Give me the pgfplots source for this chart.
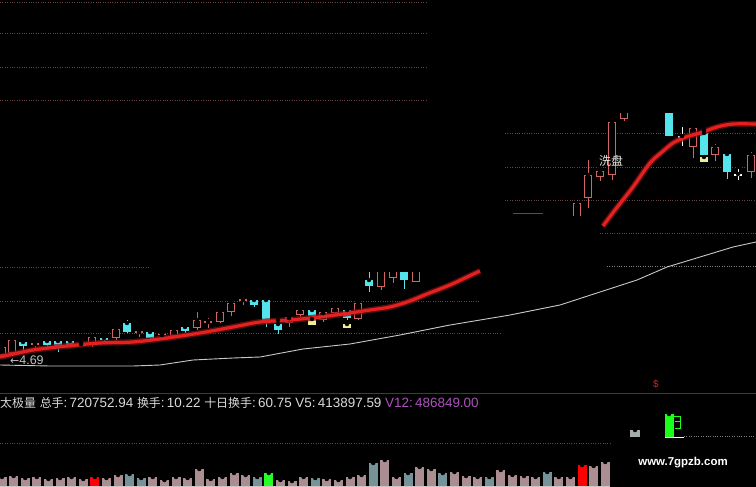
\documentclass[border=0pt]{standalone}
\usepackage{pgfplots}
\pgfplotsset{compat=1.18}
\usepackage{pgfplotstable}
\usepackage{fontspec}
\setmainfont{Liberation Sans}
\newfontfamily\cjk{Noto Sans CJK SC}
\newfontfamily\dejavu{DejaVu Sans}
\definecolor{candred}{RGB}{210,100,100}
\definecolor{candcyan}{RGB}{85,228,235}
\definecolor{mared}{RGB}{228,32,32}
\definecolor{gridc}{RGB}{105,66,66}
\definecolor{volpink}{RGB}{170,142,146}
\definecolor{volteal}{RGB}{118,148,152}
\definecolor{txtc}{RGB}{218,218,218}
\definecolor{v12c}{RGB}{172,82,188}
\definecolor{sepred}{RGB}{125,32,32}
\definecolor{yelc}{RGB}{238,238,150}
\definecolor{magray}{RGB}{200,200,200}
\definecolor{volgray}{RGB}{165,172,172}

% candles in pixel coordinates: body top/bottom, wick top/bottom
\pgfplotstableread{
x bt bb wt wb
2 347 355 345 357
12 340 353 337 355
35 343 345 339 350
81 343 344 342 345
92 337 345 336 347
116 329 338 327 340
139 331 333 327 337
162 334 335 333 336
174 330 336 329 338
197 320 328 310 330
208 321 323 316 328
220 312 322 310 323
231 303 312 300 316
243 299 301 295 305
289 317 323 316 327
300 310 315 307 317
323 312 320 311 322
335 308 313 305 315
358 303 319 302 320
381 268 287 268 290
393 268 278 268 283
416 268 282 268 282
577 203 220 198 220
588 175 198 158 208
600 171 177 169 181
612 122 175 118 180
624 108 119 108 121
693 128 147 126 158
715 147 155 142 161
751 155 172 150 178
}\redtab
\pgfplotstableread{
x bt bb wt wb
23 342 346 340 350
47 341 345 339 347
58 341 348 339 352
70 341 347 340 348
104 338 340 335 343
127 323 332 318 333
150 332 338 330 341
185 327 331 325 333
254 300 305 299 307
266 300 320 299 327
278 324 330 320 334
312 310 316 309 317
347 310 318 308 320
369 280 286 268 292
404 268 280 268 289
669 108 136 108 136
704 133 155 130 157
727 154 172 150 179
}\cyantab
\pgfplotstableread{
x bt bb wt wb
682 136 138 125 146
738 174 176 167 180
}\whitetab
\pgfplotstableread{
x bt bb
312 319 325
347 324 328
704 157 162
}\yeltab
% volume bars: x, top (pixel)
\pgfplotstableread{
x top
2 477
13.6 476
25.2 478
36.8 477
48.4 479
60 478
71.6 477
83.2 479
106.4 478
118 475
152.8 477
164.4 480
176 477
187.6 478
199.2 469
210.8 479
222.4 477
234 473
245.6 475
280.4 480
292 481
303.6 477
326.8 479
338.4 480
350 477
361.6 475
384.8 460
396.4 477
419.6 467
431.2 469
454.4 472
466 476
477.6 477
500.8 470
512.4 475
524 476
535.6 477
558.8 477
570.4 477
593.6 466
605.2 462
}\volpink
\pgfplotstableread{
x top
129.6 474
141.2 478
257.2 477
315.2 478
373.2 463
408 473
442.8 473
489.2 477
547.2 472
}\volteal
\pgfplotstableread{
x top
94.8 477
582 465
}\volred
\pgfplotstableread{
x top
268.8 473
}\volgreen

\pgfplotsset{
  body/.style n args={2}{only marks, mark=none, forget plot,
    error bars/.cd, y dir=plus, y explicit, error mark=none,
    error bar style={draw=#1, line width=#2}},
}

\begin{document}
\begin{tikzpicture}
\begin{axis}[
  scale only axis, width=756bp, height=487bp,
  xmin=0, xmax=756, ymin=0, ymax=487, y dir=reverse,
  axis lines=none, ticks=none,
  axis background/.style={fill=black},
]
\fill[black] (rel axis cs:0,0) rectangle (rel axis cs:1,1);

% lower grid
\addplot[gridc, dotted, forget plot] coordinates {(0,267) (150,267)};
\addplot[gridc, dotted, forget plot] coordinates {(0,301) (480,301)};
\addplot[gridc, dotted, forget plot] coordinates {(0,333) (500,333)};
\addplot[gridc, dotted, forget plot] coordinates {(505,133) (756,133)};
\addplot[gridc, dotted, forget plot] coordinates {(505,167) (756,167)};
\addplot[gridc, dotted, forget plot] coordinates {(505,200) (756,200)};
\addplot[gridc, dotted, forget plot] coordinates {(600,233) (756,233)};
\addplot[gray, dotted, forget plot] coordinates {(607,266) (756,266)};
\addplot[black!60!blue!40!gray, forget plot] coordinates {(513,213) (543,213)};

% gray moving average
\addplot[magray, line width=0.9bp, forget plot] coordinates {
(0,365) (50,366) (133,366) (160,365) (193,360) (233,358) (260,357)
(303,349) (350,344) (400,335) (450,325) (510,315) (560,305) (600,292)
(637,280) (667,267) (700,257) (733,247) (756,242)};

% wicks
\addplot[body={candred}{1bp}] table[x=x, y=wt, y error expr=\thisrow{wb}-\thisrow{wt}] {\redtab};
\addplot[body={candcyan}{1bp}] table[x=x, y=wt, y error expr=\thisrow{wb}-\thisrow{wt}] {\cyantab};
\addplot[body={white}{1bp}] table[x=x, y=wt, y error expr=\thisrow{wb}-\thisrow{wt}] {\whitetab};
% bodies
\addplot[body={candred}{8.6bp}] table[x=x, y=bt, y error expr=\thisrow{bb}-\thisrow{bt}] {\redtab};
\addplot[body={black}{6.4bp}] table[x=x, y expr=\thisrow{bt}+1.1, y error expr={max(\thisrow{bb}-\thisrow{bt}-2.2,0)}] {\redtab};
\addplot[body={candcyan}{8.6bp}] table[x=x, y=bt, y error expr=\thisrow{bb}-\thisrow{bt}] {\cyantab};
\addplot[body={white}{8.6bp}] table[x=x, y=bt, y error expr=\thisrow{bb}-\thisrow{bt}] {\whitetab};
\addplot[body={yelc}{8bp}] table[x=x, y=bt, y error expr=\thisrow{bb}-\thisrow{bt}] {\yeltab};

% masks (hidden parts of the screen)
\fill[black] (axis cs:362,0) rectangle (axis cs:430,271.5);
\fill[black] (axis cs:560,0) rectangle (axis cs:756,112.8);
\fill[black] (axis cs:565,215.5) rectangle (axis cs:598,262);

% upper-left grid
\addplot[gridc, dotted, forget plot] coordinates {(0,2) (427,2)};
\addplot[gridc, dotted, forget plot] coordinates {(0,33) (427,33)};
\addplot[gridc, dotted, forget plot] coordinates {(0,67) (427,67)};
\addplot[gridc, dotted, forget plot] coordinates {(0,100) (427,100)};

% red moving average
\addplot[mared!55!black, line width=6bp, opacity=0.7, smooth, forget plot] coordinates {
(0,357) (33,350) (67,346) (100,343) (133,342) (167,338) (200,333) (233,327)
(260,322) (290,320) (320,317) (350,313) (370,310) (390,307) (410,301)
(427,294) (450,285) (465,278) (480,271)};
\addplot[mared, line width=3.2bp, smooth, forget plot] coordinates {
(0,357) (33,350) (67,346) (100,343) (133,342) (167,338) (200,333) (233,327)
(260,322) (290,320) (320,317) (350,313) (370,310) (390,307) (410,301)
(427,294) (450,285) (465,278) (480,271)};
\addplot[mared!55!black, line width=6bp, opacity=0.7, smooth, forget plot] coordinates {
(603,226) (615,210) (633,187) (650,163) (662,152) (673,143) (686,137)
(700,133) (717,127) (733,124) (756,124)};
\addplot[mared, line width=3.2bp, smooth, forget plot] coordinates {
(603,226) (615,210) (633,187) (650,163) (662,152) (673,143) (686,137)
(700,133) (717,127) (733,124) (756,124)};

% texts in price panel
\node[anchor=base west, inner sep=0pt, text={rgb,255:red,195;green,195;blue,195},
  font=\fontsize{12.5}{14}\selectfont] at (axis cs:10,364) {{\dejavu\fontsize{11}{12}\selectfont ←}4.69};
\node[inner sep=0pt, text={rgb,255:red,232;green,232;blue,226},
  font=\cjk\fontsize{12}{14}\selectfont] at (axis cs:611,161) {洗盘};

% separator
\addplot[sepred, line width=1bp, forget plot] coordinates {(0,393) (756,393)};
\node[inner sep=0pt, text={rgb,255:red,205;green,40;blue,40},
  font=\fontsize{10}{11}\selectfont] at (axis cs:656,384) {\$};

% info line
\node[anchor=base west, inner sep=0pt, text=txtc, font=\fontsize{13.5}{15}\selectfont]
  at (axis cs:0,407) {{\cjk\fontsize{12}{14}\selectfont 太极量} {\cjk\fontsize{12}{14}\selectfont 总手}:\,720752.94 {\cjk\fontsize{12}{14}\selectfont 换手}:\,10.22 {\cjk\fontsize{12}{14}\selectfont 十日换手}:\,60.75 V5:\,413897.59 \textcolor{v12c}{V12:\,486849.00}};

% volume panel
\addplot[gridc, dotted, forget plot] coordinates {(0,443) (610,443)};
\addplot[body={volpink}{9bp}] table[x=x, y=top, y error expr=487-\thisrow{top}] {\volpink};
\addplot[body={volteal}{9bp}] table[x=x, y=top, y error expr=487-\thisrow{top}] {\volteal};
\addplot[body={red}{9bp}] table[x=x, y=top, y error expr=487-\thisrow{top}] {\volred};
\addplot[body={green!85!white}{9bp}] table[x=x, y=top, y error expr=487-\thisrow{top}] {\volgreen};
\addplot[magray, line width=1bp, forget plot] coordinates {(0,486) (610,486)};

\addplot[body={volgray}{10bp}] table[x=x, y=top, y error expr=\thisrow{bot}-\thisrow{top}] {
x top bot
635 430 437
};
\addplot[body={green!90!white}{9bp}] table[x=x, y=top, y error expr=\thisrow{bot}-\thisrow{top}] {
x top bot
669 414 437
};
\addplot[green!90!white, line width=0.8bp, forget plot] coordinates {(673,416) (680,416) (680,428) (675,428)};
\addplot[green!90!white, line width=0.8bp, forget plot] coordinates {(675,421) (680,421)};
\addplot[white, line width=0.8bp, forget plot] coordinates {(665,437) (684,437)};
\addplot[gray, dotted, forget plot] coordinates {(684,436) (756,436)};

\node[inner sep=0pt, text=white, font=\bfseries\fontsize{11.5}{13}\selectfont] at (axis cs:683,463) {www.7gpzb.com};
\end{axis}
\end{tikzpicture}
\end{document}
